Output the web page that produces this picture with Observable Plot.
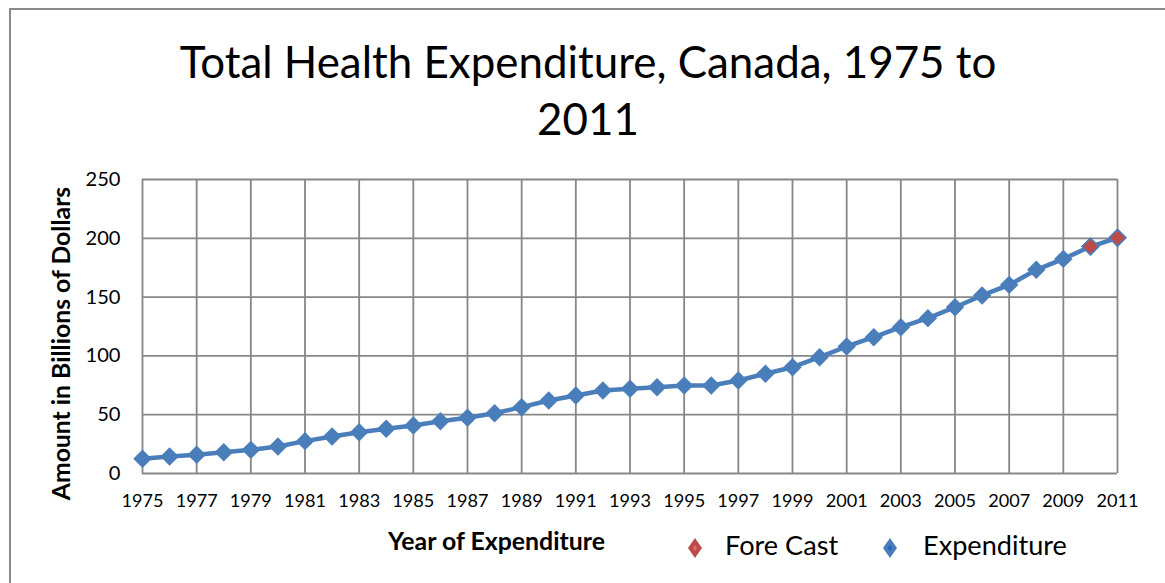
<!DOCTYPE html>
<html>
<head>
<meta charset="utf-8">
<script src="https://cdn.jsdelivr.net/npm/d3@7"></script>
<script src="https://cdn.jsdelivr.net/npm/@observablehq/plot@0.6"></script>
<style>
html,body{margin:0;padding:0;background:#fff;}
#wrap{position:relative;width:1165px;height:583px;overflow:hidden;font-family:Lato,"Open Sans",sans-serif;color:#000;}
#frame{position:absolute;left:9px;top:8px;width:1250px;height:650px;border-top:2px solid #8a8a8a;border-left:2px solid #8a8a8a;box-sizing:border-box;}
#chart{position:absolute;left:0;top:0;}
.title{position:absolute;left:0;width:1176px;text-align:center;white-space:nowrap;}
.legtext{position:absolute;white-space:nowrap;}
.legsym{position:absolute;}
</style>
</head>
<body>
<div id="wrap">
  <div id="frame"></div>
  <div id="chart"></div>
</div>
<script>
// ---- data ----
const years = [1975,1976,1977,1978,1979,1980,1981,1982,1983,1984,1985,1986,1987,1988,1989,1990,1991,1992,1993,1994,1995,1996,1997,1998,1999,2000,2001,2002,2003,2004,2005,2006,2007,2008,2009,2010,2011];
const expenditure = [12.5,14.4,15.9,18.1,20.1,23.0,27.5,31.5,35.1,38.0,40.8,44.5,47.4,51.3,56.4,62.1,66.3,70.6,72.0,73.4,74.8,74.8,79.1,84.8,90.4,98.9,108.0,115.9,124.4,132.1,141.4,151.4,160.4,173.2,182.5,193.0,200.4];
const forecastYears = [2010, 2011];
const forecastValues = [193.0, 200.4];
const xTicks = [1975,1977,1979,1981,1983,1985,1987,1989,1991,1993,1995,1997,1999,2001,2003,2005,2007,2009,2011];
const yTicks = [0,50,100,150,200,250];
const titleLines = ["Total Health Expenditure, Canada, 1975 to", "2011"];
const xLabel = "Year of Expenditure";
const yLabel = "Amount in Billions of Dollars";
const legendLabels = ["Fore Cast", "Expenditure"];

const BLUE = "#4A7EBB", RED = "#BE4B48", GRID = "#878787";
const FONT = "Lato";

// ---- font fitting ----
const ctx = document.createElement("canvas").getContext("2d");
function fit(text, weight, target) {
  ctx.font = `${weight} 100px ${FONT}`;
  return 100 * target / ctx.measureText(text).width;
}
const tickFs = fit("1975", "normal", 42);
const yTickFs = fit("250", "normal", 35);
const yLabFs = fit(yLabel, "bold", 314);
const xLabFs = fit(xLabel, "bold", 218);
const titleFs = fit(titleLines[0], "normal", 817);
const legFs = fit(legendLabels[1], "normal", 144);

const data = years.map((y, i) => ({year: y, value: expenditure[i]}));
const fdata = forecastYears.map((y, i) => ({year: y, value: forecastValues[i]}));

const chart = Plot.plot({
  width: 1165, height: 583,
  marginLeft: 142, marginRight: 48, marginTop: 179, marginBottom: 110,
  style: {fontFamily: FONT, fontSize: tickFs + "px", color: "#000", background: "transparent", overflow: "visible"},
  x: {domain: [1975, 2011]},
  y: {domain: [0, 250]},
  marks: [
    Plot.gridX(xTicks, {stroke: GRID, strokeOpacity: 1, strokeWidth: 1.8}),
    Plot.gridY(yTicks, {stroke: GRID, strokeOpacity: 1, strokeWidth: 1.8}),
    Plot.axisX(xTicks, {tickSize: 0, tickPadding: 21, tickFormat: d => String(d), label: null}),
    Plot.axisY(yTicks, {tickSize: 0, tickPadding: 22, tickFormat: d => String(d), label: null, fontSize: yTickFs}),
    Plot.line(data, {x: "year", y: "value", stroke: BLUE, strokeWidth: 4.5}),
    Plot.dot(data, {x: "year", y: "value", symbol: "diamond2", r: 8.3, fill: BLUE, stroke: "none"}),
    Plot.dot(fdata, {x: "year", y: "value", symbol: "diamond2", r: 7.5, fill: RED, stroke: BLUE, strokeWidth: 1.5}),
    Plot.text([yLabel], {text: d => d, frameAnchor: "left", textAnchor: "middle", lineAnchor: "middle", dx: -80, dy: 17, rotate: -90, fontWeight: "bold", fontSize: yLabFs}),
    Plot.text([xLabel], {text: d => d, frameAnchor: "bottom", textAnchor: "middle", lineAnchor: "middle", dx: 496 - 629.5, dy: 69, fontWeight: "bold", fontSize: xLabFs})
  ]
});
document.getElementById("chart").appendChild(chart);

// ---- title ----
const wrap = document.getElementById("wrap");
const baselines = [78, 135];
titleLines.forEach((t, i) => {
  const d = document.createElement("div");
  d.className = "title";
  d.textContent = t;
  d.style.fontSize = titleFs + "px";
  d.style.lineHeight = (titleFs * 1.2) + "px";
  d.style.top = (baselines[i] - titleFs * 0.987) + "px";
  wrap.appendChild(d);
});

// ---- legend ----
const legItems = [
  {label: legendLabels[0], color: RED, inner: "#D9726F", cx: 695, tx: 725},
  {label: legendLabels[1], color: BLUE, inner: "#1F5FC0", cx: 890, tx: 923}
];
const legBase = 556, legCy = 548;
legItems.forEach(it => {
  const ns = "http://www.w3.org/2000/svg";
  const s = document.createElementNS(ns, "svg");
  s.setAttribute("class", "legsym");
  s.setAttribute("width", 16); s.setAttribute("height", 22);
  s.style.left = (it.cx - 8) + "px"; s.style.top = (legCy - 11) + "px";
  const p = document.createElementNS(ns, "polygon");
  p.setAttribute("points", "8,1 15,11 8,21 1,11");
  p.setAttribute("fill", it.color);
  s.appendChild(p);
  const q = document.createElementNS(ns, "polygon");
  q.setAttribute("points", "8,8 10,11 8,14 6,11");
  q.setAttribute("fill", it.inner);
  s.appendChild(q);
  wrap.appendChild(s);
  const t = document.createElement("div");
  t.className = "legtext";
  t.textContent = it.label;
  t.style.fontSize = legFs + "px";
  t.style.lineHeight = (legFs * 1.2) + "px";
  t.style.left = it.tx + "px";
  t.style.top = (legBase - legFs * 0.987) + "px";
  wrap.appendChild(t);
});
</script>
</body>
</html>
